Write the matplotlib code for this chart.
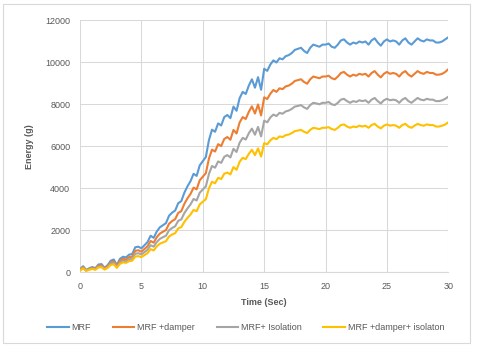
import numpy as np
import matplotlib
matplotlib.use("agg")
from matplotlib import pyplot as plt
from matplotlib.patches import Rectangle

plt.rcParams["font.family"] = ["Liberation Sans", "DejaVu Sans"]

# energy values, one sample every 0.25 s from 0 to 30 s
mrf = [150, 300, 120, 200, 260, 200, 380, 400, 220, 350, 560, 620, 350, 650, 750, 720,
       850, 880, 1200, 1230, 1150, 1300, 1450, 1750, 1650, 1950, 2150, 2250, 2350, 2700,
       2850, 2950, 3300, 3400, 3800, 4100, 4350, 4700, 4600, 5100, 5300, 5500, 6300, 6800,
       6700, 7100, 7000, 7400, 7500, 7350, 7900, 7700, 8300, 8600, 8500, 8900, 9200, 8800,
       9300, 8700, 9700, 9600, 9900, 10100, 10000, 10200, 10150, 10300, 10350, 10450, 10600,
       10650, 10700, 10550, 10450, 10700, 10850, 10800, 10750, 10850, 10850, 10900, 10750,
       10700, 10850, 11050, 11100, 10950, 10850, 10950, 10900, 11000, 10950, 11000, 10850,
       11050, 11150, 10950, 10800, 11000, 11100, 11000, 11050, 11000, 10850, 11050, 11150,
       10950, 10850, 11000, 11150, 11050, 11000, 11100, 11050, 11050, 10950, 10950, 11000,
       11100, 11200]
mrf_damper = [130, 260, 100, 170, 220, 170, 330, 340, 190, 300, 480, 530, 300, 560, 650, 620,
              730, 760, 1030, 1060, 990, 1120, 1250, 1500, 1420, 1680, 1850, 1940, 2020, 2320,
              2450, 2540, 2840, 2920, 3270, 3530, 3740, 4040, 3960, 4390, 4560, 4730, 5420, 5850,
              5760, 6110, 6020, 6360, 6450, 6320, 6790, 6620, 7140, 7400, 7310, 7650, 7910, 7570,
              8000, 7480, 8340, 8260, 8510, 8690, 8600, 8770, 8730, 8860, 8900, 8990, 9120,
              9160, 9200, 9070, 8990, 9200, 9330, 9290, 9250, 9330, 9330, 9370, 9250,
              9200, 9330, 9500, 9550, 9420, 9330, 9420, 9370, 9460, 9420, 9460, 9330,
              9500, 9590, 9420, 9290, 9460, 9550, 9460, 9500, 9460, 9330, 9500, 9590,
              9420, 9330, 9460, 9590, 9500, 9460, 9550, 9500, 9500, 9420, 9420, 9460,
              9550, 9680]
mrf_isolation = [110, 220, 90, 150, 190, 150, 280, 300, 160, 260, 420, 460, 260, 480, 560, 540,
                 630, 660, 890, 920, 860, 970, 1080, 1300, 1230, 1450, 1600, 1680, 1750, 2010,
                 2120, 2200, 2460, 2530, 2830, 3050, 3240, 3500, 3430, 3800, 3950, 4100, 4690, 5070,
                 4990, 5290, 5220, 5510, 5590, 5480, 5890, 5740, 6180, 6410, 6330, 6630, 6850, 6560,
                 6930, 6480, 7230, 7150, 7380, 7520, 7450, 7600, 7560, 7670, 7710, 7790, 7900,
                 7930, 7970, 7860, 7790, 7970, 8080, 8050, 8010, 8080, 8080, 8120, 8010,
                 7970, 8080, 8230, 8270, 8160, 8080, 8160, 8120, 8200, 8160, 8200, 8080,
                 8230, 8310, 8160, 8050, 8200, 8270, 8200, 8230, 8200, 8080, 8230, 8310,
                 8160, 8080, 8200, 8310, 8230, 8200, 8270, 8230, 8230, 8160, 8160, 8200,
                 8270, 8370]
mrf_damper_iso = [100, 190, 80, 130, 170, 130, 240, 250, 140, 220, 360, 390, 220, 410, 480, 460,
                  540, 560, 760, 780, 730, 830, 920, 1110, 1050, 1240, 1370, 1430, 1490, 1710,
                  1810, 1870, 2100, 2160, 2410, 2600, 2760, 2980, 2920, 3240, 3370, 3490, 4000, 4320,
                  4250, 4510, 4450, 4700, 4760, 4670, 5020, 4890, 5270, 5460, 5400, 5650, 5840, 5590,
                  5910, 5520, 6160, 6100, 6290, 6410, 6350, 6480, 6450, 6540, 6570, 6640, 6730,
                  6760, 6790, 6700, 6640, 6790, 6890, 6860, 6830, 6890, 6890, 6920, 6830,
                  6790, 6890, 7020, 7050, 6950, 6890, 6950, 6920, 6990, 6950, 6990, 6890,
                  7020, 7080, 6950, 6860, 6990, 7050, 6990, 7020, 6990, 6890, 7020, 7080,
                  6950, 6890, 6990, 7080, 7020, 6990, 7050, 7020, 7020, 6950, 6950, 6990,
                  7050, 7150]

series = [
    ("MRF", mrf, "#5B9BD5"),
    ("MRF +damper", mrf_damper, "#ED7D31"),
    ("MRF+ Isolation", mrf_isolation, "#A5A5A5"),
    ("MRF +damper+ isolaton", mrf_damper_iso, "#FFC000"),
]

time = np.linspace(0, 30, len(mrf))

fig = plt.figure(figsize=(4.8, 3.47), dpi=100)
ax = fig.add_axes([0.1667, 0.2147, 0.7673, 0.7263])

# light frame round the chart, as in the spreadsheet export
fig.patches.append(Rectangle((3 / 480, 4 / 347), 467 / 480, 339 / 347, transform=fig.transFigure,
                             fill=False, edgecolor="#D9D9D9", linewidth=0.8))

for name, vals, col in series:
    ax.plot(time, vals, color=col, lw=1.5, label=name)

ax.set_xlim(0, 30)
ax.set_ylim(0, 12000)
ax.set_xticks(np.arange(0, 31, 5))
ax.set_yticks(np.arange(0, 12001, 2000))
ax.grid(True, color="#D9D9D9", lw=0.75)
ax.set_axisbelow(True)
for s in ["top", "right", "left"]:
    ax.spines[s].set_visible(False)
ax.spines["bottom"].set_color("#D9D9D9")
ax.tick_params(length=0, labelsize=6.5, colors="#595959", pad=7)

ax.set_xlabel("Time (Sec)", fontsize=6.5, fontweight="bold", color="#595959", labelpad=5)
ax.set_ylabel("Energy (g)", fontsize=6.5, fontweight="bold", color="#595959", labelpad=8)

fig.legend(loc="center", bbox_to_anchor=(0.512, 0.055), ncol=4, frameon=False, fontsize=6.5,
           handlelength=2.4, columnspacing=2.4, handletextpad=0.3, labelcolor="#595959")

fig.savefig("out.png", dpi=100)
